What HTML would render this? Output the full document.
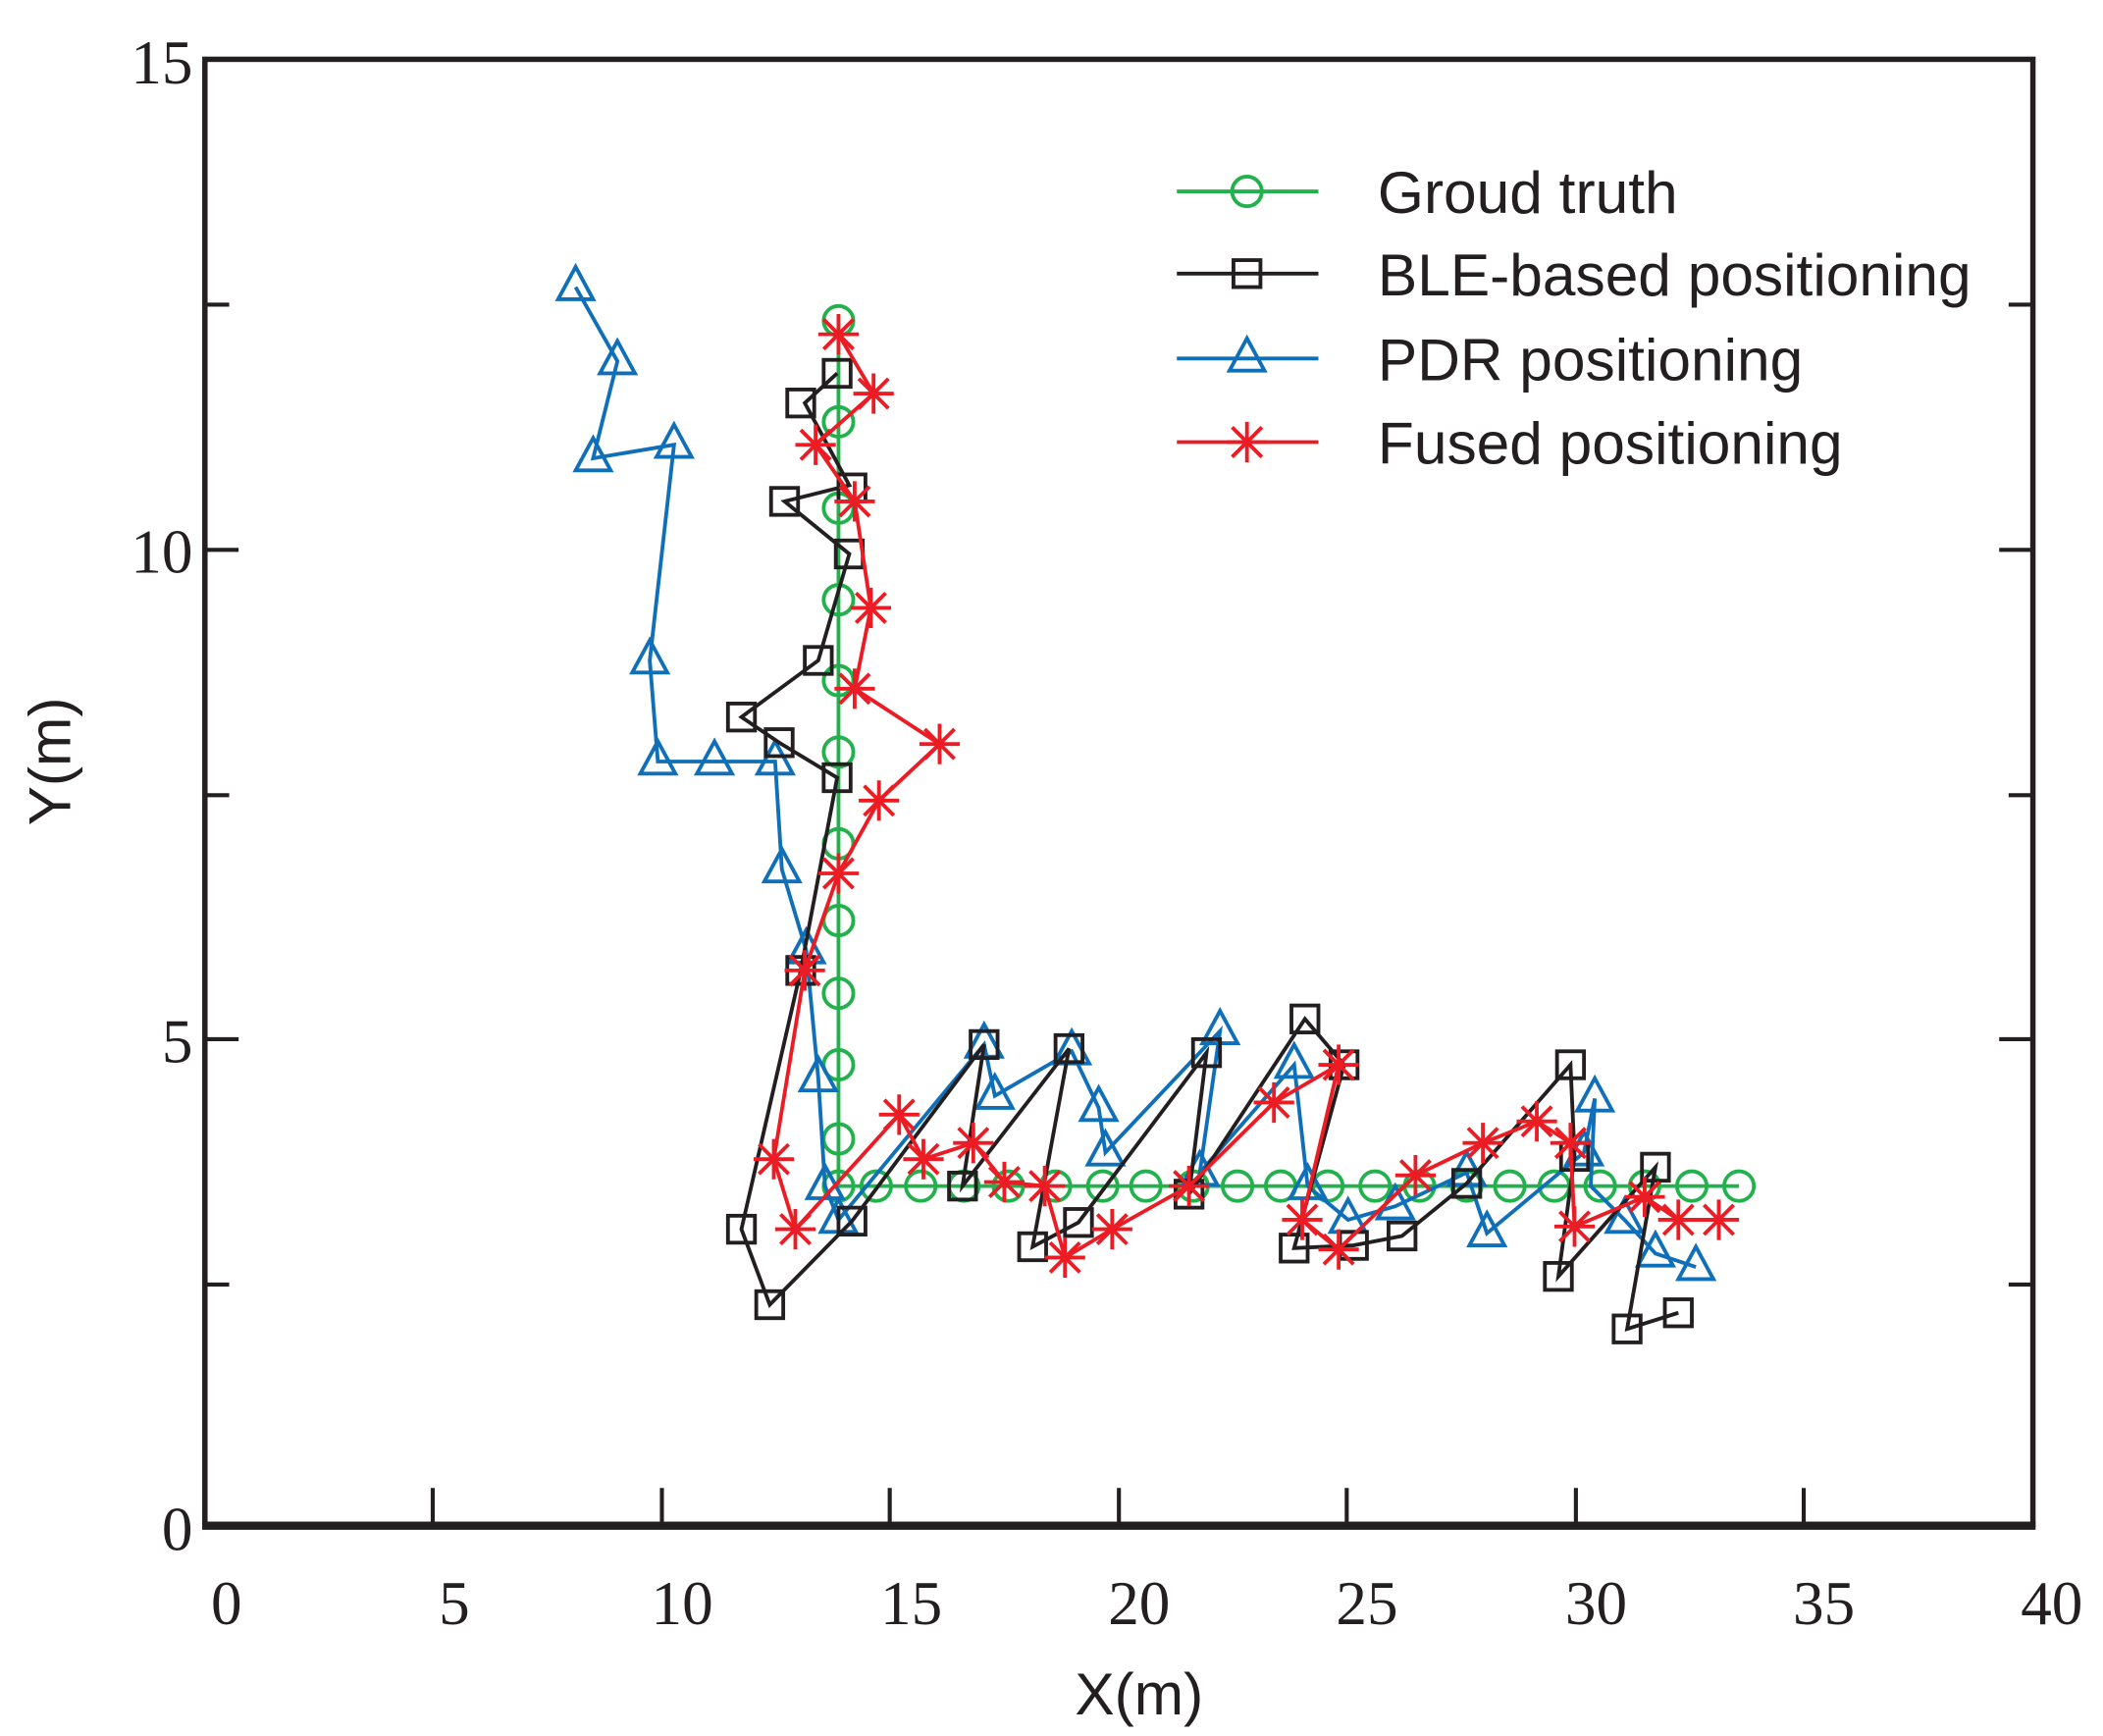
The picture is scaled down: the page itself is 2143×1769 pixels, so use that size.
<!DOCTYPE html>
<html><head><meta charset="utf-8"><style>html,body{margin:0;padding:0;background:#fff}svg{display:block}</style></head>
<body>
<svg width="2143" height="1769" viewBox="0 0 1560 1288" preserveAspectRatio="none" xmlns="http://www.w3.org/2000/svg">
<defs>
<symbol id="c" overflow="visible"><circle cx="0" cy="0" r="11" fill="none" stroke="#22b14c" stroke-width="2.8"/></symbol>
<symbol id="s" overflow="visible"><rect x="-10" y="-10" width="20" height="20" fill="none" stroke="#231f20" stroke-width="2.8"/></symbol>
<symbol id="t" overflow="visible"><path d="M0,-15 L13,9 L-13,9 Z" fill="none" stroke="#0f6fb8" stroke-width="2.8"/></symbol>
<symbol id="a" overflow="visible"><path d="M0,-15V15M-15,0H15M-11,-11L11,11M-11,11L11,-11" stroke="#ec1c24" stroke-width="2.8"/></symbol>
</defs>
<g font-family="Liberation Serif, serif" font-size="46" fill="#231f20">
<text x="143" y="62" text-anchor="end">15</text>
<text x="143" y="425" text-anchor="end">10</text>
<text x="143" y="788" text-anchor="end">5</text>
<text x="143" y="1150" text-anchor="end">0</text>
<text x="168" y="1205" text-anchor="middle">0</text>
<text x="337" y="1205" text-anchor="middle">5</text>
<text x="506" y="1205" text-anchor="middle">10</text>
<text x="676" y="1205" text-anchor="middle">15</text>
<text x="845" y="1205" text-anchor="middle">20</text>
<text x="1014" y="1205" text-anchor="middle">25</text>
<text x="1184" y="1205" text-anchor="middle">30</text>
<text x="1353" y="1205" text-anchor="middle">35</text>
<text x="1522" y="1205" text-anchor="middle">40</text>
</g>
<g font-family="Liberation Sans, sans-serif" font-size="44" fill="#231f20">
<text x="845" y="1272" text-anchor="middle">X(m)</text>
<text transform="translate(52,565) rotate(-90)" text-anchor="middle">Y(m)</text>
</g>
<g stroke="#231f20" stroke-width="4" fill="none">
<rect x="152" y="44" width="1356" height="1087"/>
<line x1="150" y1="1132" x2="1510" y2="1132" stroke-width="6"/>
<path d="M321,1131v-27M491,1131v-27M660,1131v-27M830,1131v-27M999,1131v-27M1169,1131v-27M1338,1131v-27
M152,226h18M152,408h25M152,590h18M152,771h25M152,953h18
M1508,226h-18M1508,408h-25M1508,590h-18M1508,771h-25M1508,953h-18" stroke-width="3"/>
</g>
<polyline fill="none" stroke="#22b14c" stroke-width="2.8" points="622,238 622,880 1290,880"/>
<g>
<use href="#c" x="622" y="238"/><use href="#c" x="622" y="313"/><use href="#c" x="622" y="377"/><use href="#c" x="622" y="445"/><use href="#c" x="622" y="505"/><use href="#c" x="622" y="558"/><use href="#c" x="622" y="626"/><use href="#c" x="622" y="683"/><use href="#c" x="622" y="737"/><use href="#c" x="622" y="790"/><use href="#c" x="622" y="845"/>
<use href="#c" x="622" y="880"/><use href="#c" x="650" y="880"/><use href="#c" x="683" y="880"/><use href="#c" x="715" y="880"/><use href="#c" x="748" y="880"/><use href="#c" x="783" y="880"/><use href="#c" x="818" y="880"/><use href="#c" x="850" y="880"/><use href="#c" x="885" y="880"/><use href="#c" x="918" y="880"/><use href="#c" x="950" y="880"/><use href="#c" x="985" y="880"/><use href="#c" x="1020" y="880"/><use href="#c" x="1053" y="880"/><use href="#c" x="1088" y="880"/><use href="#c" x="1120" y="880"/><use href="#c" x="1153" y="880"/><use href="#c" x="1187" y="880"/><use href="#c" x="1220" y="880"/><use href="#c" x="1255" y="880"/><use href="#c" x="1290" y="880"/>
</g>
<polyline fill="none" stroke="#0f6fb8" stroke-width="2.8" points="427,213 458,268 440,340 500,330 482,490 488,565 530,565 575,565 580,645 598,705 607,800 612,880 622,905 730,775 738,813 795,780 815,822 820,855 905,765 890,870 960,790 970,880 1000,905 1035,895 1088,870 1103,915 1175,855 1183,815 1180,880 1205,905 1228,930 1258,940"/>
<g>
<use href="#t" x="427" y="213"/><use href="#t" x="458" y="268"/><use href="#t" x="440" y="340"/><use href="#t" x="500" y="330"/><use href="#t" x="482" y="490"/><use href="#t" x="488" y="565"/><use href="#t" x="530" y="565"/><use href="#t" x="575" y="565"/><use href="#t" x="580" y="645"/><use href="#t" x="598" y="705"/><use href="#t" x="607" y="800"/><use href="#t" x="612" y="880"/><use href="#t" x="622" y="905"/><use href="#t" x="730" y="775"/><use href="#t" x="738" y="813"/><use href="#t" x="795" y="780"/><use href="#t" x="815" y="822"/><use href="#t" x="820" y="855"/><use href="#t" x="905" y="765"/><use href="#t" x="890" y="870"/><use href="#t" x="960" y="790"/><use href="#t" x="970" y="880"/><use href="#t" x="1000" y="905"/><use href="#t" x="1035" y="895"/><use href="#t" x="1088" y="870"/><use href="#t" x="1103" y="915"/><use href="#t" x="1175" y="855"/><use href="#t" x="1183" y="815"/><use href="#t" x="1205" y="905"/><use href="#t" x="1228" y="930"/><use href="#t" x="1258" y="940"/>
</g>
<polyline fill="none" stroke="#231f20" stroke-width="2.8" points="621,277 597,299 630,360 582,372 630,411 607,490 550,532 578,551 621,577 594,720 550,912 571,968 632,906 730,775 714,880 793,778 766,925 800,907 895,781 882,886 968,756 997,790 960,926 1004,924 1040,917 1088,878 1165,790 1168,858 1156,947 1228,866 1207,986 1245,974"/>
<g>
<use href="#s" x="621" y="277"/><use href="#s" x="594" y="299"/><use href="#s" x="632" y="362"/><use href="#s" x="582" y="372"/><use href="#s" x="630" y="411"/><use href="#s" x="607" y="490"/><use href="#s" x="550" y="532"/><use href="#s" x="578" y="551"/><use href="#s" x="621" y="577"/><use href="#s" x="594" y="720"/><use href="#s" x="550" y="912"/><use href="#s" x="571" y="968"/><use href="#s" x="632" y="906"/><use href="#s" x="730" y="775"/><use href="#s" x="714" y="880"/><use href="#s" x="793" y="778"/><use href="#s" x="766" y="925"/><use href="#s" x="800" y="907"/><use href="#s" x="895" y="781"/><use href="#s" x="882" y="886"/><use href="#s" x="968" y="756"/><use href="#s" x="997" y="790"/><use href="#s" x="960" y="926"/><use href="#s" x="1004" y="924"/><use href="#s" x="1040" y="917"/><use href="#s" x="1088" y="878"/><use href="#s" x="1165" y="790"/><use href="#s" x="1168" y="858"/><use href="#s" x="1156" y="947"/><use href="#s" x="1228" y="866"/><use href="#s" x="1207" y="986"/><use href="#s" x="1245" y="974"/>
</g>
<polyline fill="none" stroke="#ec1c24" stroke-width="2.8" points="622,248 648,292 605,330 634,372 646,451 634,511 697,552 652,594 622,648 597,720 574,860 590,912 667,827 685,860 722,848 745,877 775,880 790,933 825,912 882,880 945,818 993,790 966,905 993,927 1050,872 1100,848 1140,832 1165,848 1168,910 1220,888 1245,905 1275,905"/>
<g>
<use href="#a" x="622" y="248"/><use href="#a" x="648" y="292"/><use href="#a" x="605" y="330"/><use href="#a" x="634" y="372"/><use href="#a" x="646" y="451"/><use href="#a" x="634" y="511"/><use href="#a" x="697" y="552"/><use href="#a" x="652" y="594"/><use href="#a" x="622" y="648"/><use href="#a" x="597" y="720"/><use href="#a" x="574" y="860"/><use href="#a" x="590" y="912"/><use href="#a" x="667" y="827"/><use href="#a" x="685" y="860"/><use href="#a" x="722" y="848"/><use href="#a" x="745" y="877"/><use href="#a" x="775" y="880"/><use href="#a" x="790" y="933"/><use href="#a" x="825" y="912"/><use href="#a" x="882" y="880"/><use href="#a" x="945" y="818"/><use href="#a" x="993" y="790"/><use href="#a" x="966" y="905"/><use href="#a" x="993" y="927"/><use href="#a" x="1050" y="872"/><use href="#a" x="1100" y="848"/><use href="#a" x="1140" y="832"/><use href="#a" x="1165" y="848"/><use href="#a" x="1168" y="910"/><use href="#a" x="1220" y="888"/><use href="#a" x="1245" y="905"/><use href="#a" x="1275" y="905"/>
</g>
<g stroke-width="2.8">
<line x1="873" y1="142" x2="978" y2="142" stroke="#22b14c"/><use href="#c" x="925" y="142"/>
<line x1="873" y1="203" x2="978" y2="203" stroke="#231f20"/><use href="#s" x="925" y="203"/>
<line x1="873" y1="266" x2="978" y2="266" stroke="#0f6fb8"/><use href="#t" x="925" y="266"/>
<line x1="873" y1="328" x2="978" y2="328" stroke="#ec1c24"/><use href="#a" x="925" y="328"/>
</g>
<g font-family="Liberation Sans, sans-serif" font-size="44" fill="#231f20">
<text x="1022" y="158">Groud truth</text>
<text x="1022" y="219">BLE-based positioning</text>
<text x="1022" y="282">PDR positioning</text>
<text x="1022" y="344">Fused positioning</text>
</g>
</svg>
</body></html>
